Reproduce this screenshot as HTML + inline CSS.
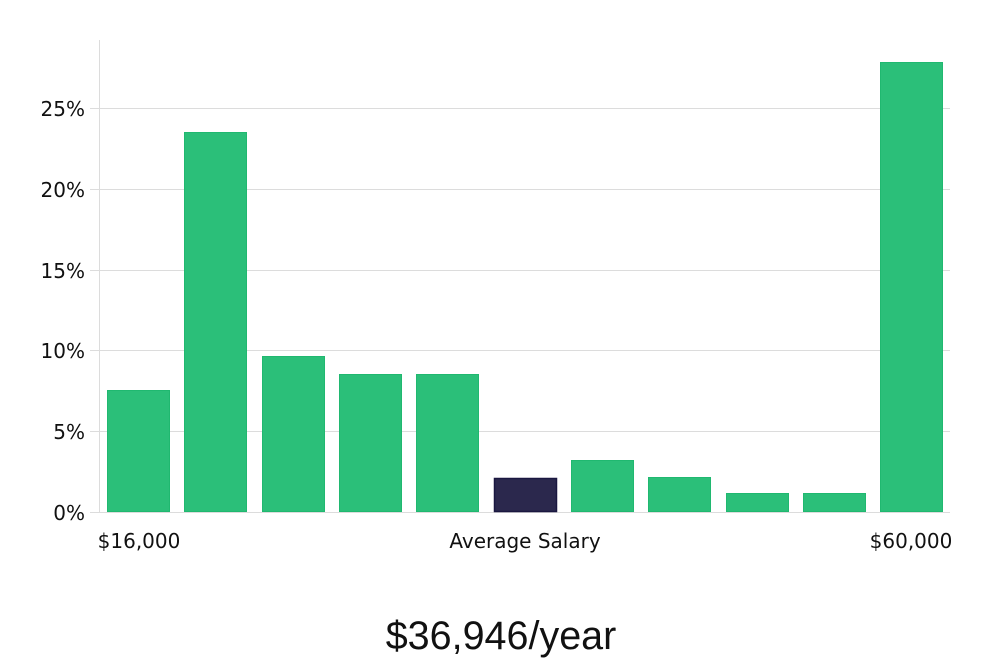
<!DOCTYPE html>
<html><head><meta charset="utf-8"><style>
html,body{margin:0;padding:0;background:#fff;width:1000px;height:660px;overflow:hidden}
</style></head><body>
<svg width="1000" height="660" xmlns="http://www.w3.org/2000/svg" font-family="'DejaVu Sans','Liberation Sans',sans-serif">
<g stroke="#dcdcdc" stroke-width="1">
<line x1="90" y1="108.5" x2="950" y2="108.5"/>
<line x1="90" y1="189.5" x2="950" y2="189.5"/>
<line x1="90" y1="270.5" x2="950" y2="270.5"/>
<line x1="90" y1="350.5" x2="950" y2="350.5"/>
<line x1="90" y1="431.5" x2="950" y2="431.5"/>
<line x1="90" y1="512.5" x2="950" y2="512.5"/>
<line x1="99.5" y1="40" x2="99.5" y2="512"/>
</g>
<g font-size="20" fill="#111" text-anchor="end">
<text x="85" y="116">25%</text>
<text x="85" y="197">20%</text>
<text x="85" y="278">15%</text>
<text x="85" y="358">10%</text>
<text x="85" y="439">5%</text>
<text x="85" y="520">0%</text>
</g>
<g fill="#2bbf79" stroke="#20b870" stroke-width="1">
<rect x="107.5" y="390.5" width="62" height="121"/>
<rect x="184.5" y="132.5" width="62" height="379"/>
<rect x="262.5" y="356.5" width="62" height="155"/>
<rect x="339.5" y="374.5" width="62" height="137"/>
<rect x="416.5" y="374.5" width="62" height="137"/>
<rect x="571.5" y="460.5" width="62" height="51"/>
<rect x="648.5" y="477.5" width="62" height="34"/>
<rect x="726.5" y="493.5" width="62" height="18"/>
<rect x="803.5" y="493.5" width="62" height="18"/>
<rect x="880.5" y="62.5" width="62" height="449"/>
</g>
<rect x="494.5" y="478.5" width="62" height="33" fill="#2b284d" stroke="#1a1740" stroke-width="1.5"/>
<g font-size="20" fill="#111" text-anchor="middle">
<text x="139" y="548">$16,000</text>
<text x="525" y="548">Average Salary</text>
<text x="911" y="548">$60,000</text>
</g>
<text x="501" y="649" font-family="'Liberation Sans',sans-serif" font-size="39.5" fill="#111" text-anchor="middle">$36,946/year</text>
</svg>
</body></html>
